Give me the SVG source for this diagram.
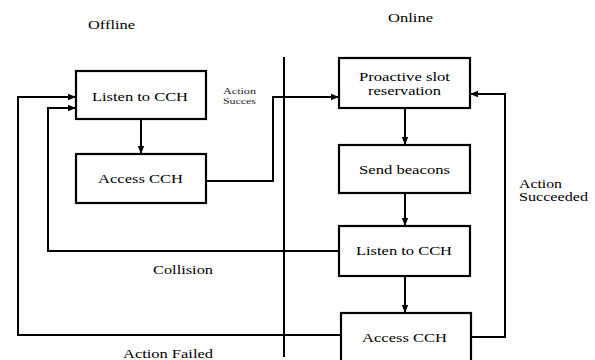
<svg xmlns="http://www.w3.org/2000/svg" width="595" height="360" viewBox="0 0 595 360">
<defs>
<marker id="ah" markerUnits="userSpaceOnUse" markerWidth="8" markerHeight="8" viewBox="0 0 8 8" refX="8" refY="4" orient="auto">
<path d="M0,0.8 L8,4 L0,7.2 Z" fill="#000"/>
</marker>
<style>
.box{fill:#fff;stroke:#000;stroke-width:2.2}
.ln{fill:none;stroke:#000;stroke-width:2}
.t{font-family:"Liberation Serif","DejaVu Serif","Noto Serif","Times New Roman",serif;font-size:13px;fill:#000}
.u{font-family:"Liberation Serif","DejaVu Serif","Noto Serif","Times New Roman",serif;font-size:11.5px;fill:#000}
.s{font-family:"Liberation Serif","DejaVu Serif","Noto Serif","Times New Roman",serif;font-size:8px;fill:#222}
</style>
</defs>
<rect width="595" height="360" fill="#fff"/>
<text class="t" x="88" y="29" textLength="47" lengthAdjust="spacingAndGlyphs">Offline</text>
<text class="t" x="388" y="22" textLength="45" lengthAdjust="spacingAndGlyphs">Online</text>
<line class="ln" x1="284" y1="57" x2="284" y2="357"/>
<g id="connectors">
<path class="ln" d="M141,119 V154" marker-end="url(#ah)"/>
<path class="ln" d="M206,181 H273 V97 H339" marker-end="url(#ah)"/>
<path class="ln" d="M405,108 V145" marker-end="url(#ah)"/>
<path class="ln" d="M405,193 V226" marker-end="url(#ah)"/>
<path class="ln" d="M405,276 V313" marker-end="url(#ah)"/>
<path class="ln" d="M471,337 H505 V94 H470" marker-end="url(#ah)"/>
<path class="ln" d="M339,251 H48 V108 H76" marker-end="url(#ah)"/>
<path class="ln" d="M341,335 H18 V97 H76" marker-end="url(#ah)"/>
</g>
<g id="off_listen">
<rect class="box" x="76" y="71" width="130" height="48"/>
<text class="t" x="92" y="101" textLength="96" lengthAdjust="spacingAndGlyphs">Listen to CCH</text>
</g>
<g id="off_access">
<rect class="box" x="76" y="154" width="130" height="49"/>
<text class="t" x="98" y="183" textLength="85" lengthAdjust="spacingAndGlyphs">Access CCH</text>
</g>
<g id="proactive">
<rect class="box" x="339" y="58" width="131" height="50"/>
<text class="u" x="359" y="81" textLength="91" lengthAdjust="spacingAndGlyphs">Proactive slot</text>
<text class="u" x="368" y="94.5" textLength="73" lengthAdjust="spacingAndGlyphs">reservation</text>
</g>
<g id="send_beacons">
<rect class="box" x="339" y="145" width="131" height="48"/>
<text class="t" x="359" y="174" textLength="91" lengthAdjust="spacingAndGlyphs">Send beacons</text>
</g>
<g id="on_listen">
<rect class="box" x="339" y="226" width="131" height="50"/>
<text class="t" x="356" y="255" textLength="96" lengthAdjust="spacingAndGlyphs">Listen to CCH</text>
</g>
<g id="on_access">
<rect class="box" x="341" y="313" width="130" height="55"/>
<text class="t" x="362" y="342" textLength="85" lengthAdjust="spacingAndGlyphs">Access CCH</text>
</g>
<g id="labels">
<text class="s" x="223" y="94" textLength="33" lengthAdjust="spacingAndGlyphs">Action</text>
<text class="s" x="223" y="104" textLength="33" lengthAdjust="spacingAndGlyphs">Succes</text>
<text class="u" x="519" y="188" textLength="43" lengthAdjust="spacingAndGlyphs">Action</text>
<text class="u" x="519" y="201" textLength="69" lengthAdjust="spacingAndGlyphs">Succeeded</text>
<text class="t" x="153" y="274" textLength="60" lengthAdjust="spacingAndGlyphs">Collision</text>
<text class="t" x="123" y="358" textLength="90" lengthAdjust="spacingAndGlyphs">Action Failed</text>
</g>
</svg>
